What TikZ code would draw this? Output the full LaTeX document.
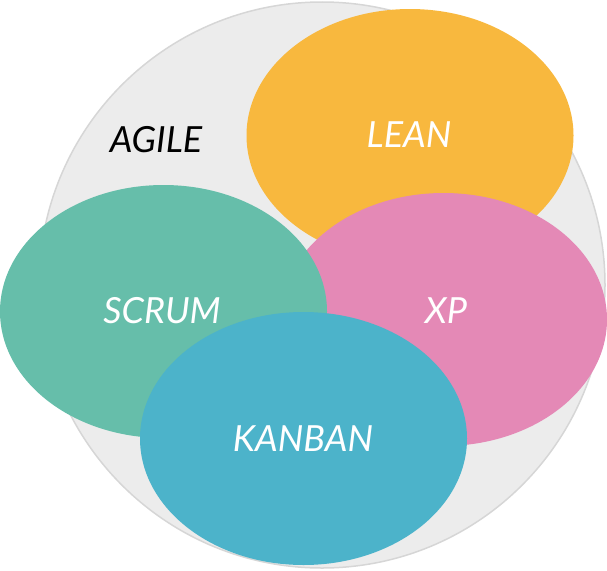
\documentclass[tikz,border=0pt]{standalone}
\usepackage{fontspec}
\setmainfont{Lato}
\usetikzlibrary{shapes.geometric}
\definecolor{leanc}{HTML}{F8B83E}
\definecolor{xpc}{HTML}{E489B6}
\definecolor{scrumc}{HTML}{66BEAA}
\definecolor{kanbanc}{HTML}{4CB3CA}
\definecolor{agilefill}{HTML}{ECECEC}
\definecolor{agileline}{HTML}{D6D6D6}
\tikzset{
  blob/.style={ellipse, inner sep=0pt, minimum width=327pt, minimum height=253pt, draw=none},
  lbl/.style={font=\fontsize{36}{40}\selectfont\itshape, text=white, inner sep=0pt},
}
\begin{document}
\begin{tikzpicture}[x=1pt,y=-1pt]
\useasboundingbox (0,0) rectangle (607,570);
\node[circle, minimum size=566pt, inner sep=0pt, fill=agilefill, draw=agileline, line width=1.5pt] (agile) at (322,285) {};
\node[blob, fill=leanc] (lean) at (410,135.5) {};
\node[blob, fill=xpc] (xp) at (443.5,319.5) {};
\node[blob, fill=scrumc] (scrum) at (163.5,311.5) {};
\node[blob, fill=kanbanc] (kanban) at (303.5,438.5) {};
\node[lbl, text=black] (tagile) at (156,140) {AGILE};
\node[lbl] (tlean) at (409,135) {LEAN};
\node[lbl] (tscrum) at (162,311) {SCRUM};
\node[lbl] (txp) at (446,311) {XP};
\node[lbl] (tkanban) at (303,439) {KANBAN};
\end{tikzpicture}
\end{document}
